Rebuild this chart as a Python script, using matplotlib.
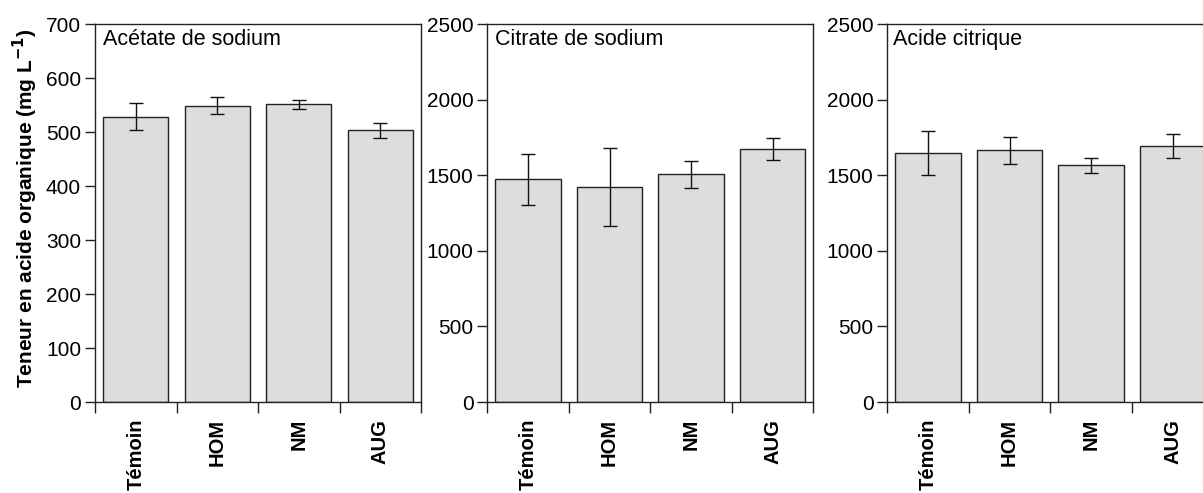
import matplotlib
matplotlib.use("Agg")
import matplotlib.pyplot as plt
import numpy as np

plt.rcParams['font.family'] = ['Liberation Sans', 'DejaVu Sans']

categories = ["Témoin", "HOM", "NM", "AUG"]
titles = ["Acétate de sodium", "Citrate de sodium", "Acide citrique"]

acetate_vals = [528, 549, 551, 503]
acetate_err = [25, 15, 8.5, 14]
citrate_vals = [1473, 1420, 1506, 1673]
citrate_err = [167, 258, 90, 73]
citrique_vals = [1645, 1665, 1565, 1691]
citrique_err = [145, 90, 50, 80]

series = [(acetate_vals, acetate_err), (citrate_vals, citrate_err), (citrique_vals, citrique_err)]
ymax = [700, 2500, 2500]
ystep = [100, 500, 500]
ylabel = "Teneur en acide organique (mg L$^{\\mathbf{-1}}$)"

W, H = 1203, 493
fig = plt.figure(figsize=(W / 100, H / 100), dpi=100)

lefts_px = [95, 487.3, 887.3]
width_px = 326
top_px, bot_px = 24, 402
title_x = [0.024, 0.024, 0.017]

spine_c = '#222222'
for i, (vals, errs) in enumerate(series):
    ax = fig.add_axes([lefts_px[i] / W, 1 - bot_px / H, width_px / W, (bot_px - top_px) / H])
    x = np.arange(len(categories))
    ax.bar(x, vals, width=0.8, color='#dcdddc', edgecolor='#222222', linewidth=1.0, zorder=2)
    ax.errorbar(x, vals, yerr=errs, fmt='none', ecolor='#111111', elinewidth=1.0,
                capsize=5, capthick=1.0, zorder=3)
    ax.set_xlim(-0.5, len(categories) - 0.5)
    ax.set_ylim(0, ymax[i])
    ax.set_yticks(np.arange(0, ymax[i] + 1, ystep[i]))
    ax.set_xticks(x)
    ax.set_xticklabels(categories, rotation=90, fontweight='bold', fontsize=14.5, va='top')
    ax.set_xticks(np.arange(len(categories) + 1) - 0.5, minor=True)
    ax.tick_params(axis='x', which='major', length=0, pad=12)
    ax.tick_params(axis='x', which='minor', length=8, width=1.0, direction='out', color=spine_c)
    ax.tick_params(axis='y', which='major', length=7, width=1.0, direction='out', pad=3,
                   labelsize=15, color=spine_c)
    for s in ax.spines.values():
        s.set_linewidth(1.0)
        s.set_color(spine_c)
    ax.text(title_x[i], 0.944, titles[i], transform=ax.transAxes, fontsize=15.5,
            ha='left', va='baseline')
    if i == 0:
        ax.set_ylabel(ylabel, fontweight='bold', fontsize=15, va='center')
        ax.yaxis.set_label_coords(-0.215, 0.512)

fig.savefig("out.png", dpi=100)
